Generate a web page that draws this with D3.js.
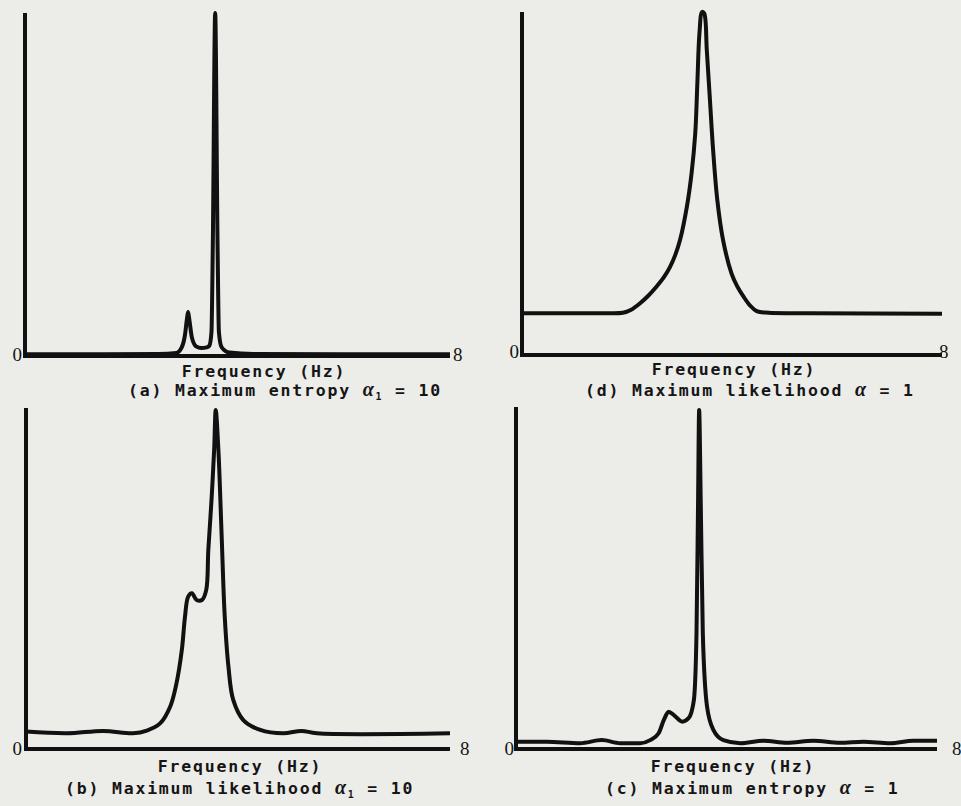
<!DOCTYPE html>
<meta charset="utf-8">
<head>
<style>
body { margin: 0; background: #ecece9; }
svg { display: block; }
.lbl { font-family: "DejaVu Sans Mono", monospace; font-weight: bold; font-size: 16.5px; letter-spacing: 1.8px; fill: #151515; }
.num { font-family: "Liberation Serif", serif; font-size: 19px; fill: #151515; }
</style>
<script src="https://cdnjs.cloudflare.com/ajax/libs/d3/7.8.5/d3.min.js"></script>
</head>
<body>
<div id="vis-container"></div>
<script>
// frequency in Hz, power in arbitrary units (axis top = 100)
var freqA = [0, 1.5, 2.5, 2.85, 2.95, 3.01, 3.05, 3.07, 3.09, 3.14, 3.22, 3.32, 3.42, 3.47, 3.51, 3.535, 3.58, 3.625, 3.65, 3.7, 3.85, 4.3, 6, 8]
var powA  = [0.5, 0.5, 0.6, 0.9, 2.5, 6, 11, 12.8, 11, 5.5, 2.8, 2.3, 2.5, 3, 7, 32, 100, 32, 7, 2.6, 1, 0.6, 0.5, 0.5]

var freqB = [0, 0.77, 1.46, 2.02, 2.28, 2.53, 2.72, 2.84, 2.94, 3.0, 3.06, 3.13, 3.22, 3.32, 3.4, 3.44, 3.5, 3.55, 3.58, 3.63, 3.69, 3.75, 3.82, 3.91, 4.1, 4.42, 4.85, 5.2, 5.49, 8]
var powB  = [5.1, 4.6, 5.3, 4.6, 5.4, 7.5, 12.4, 19.3, 29, 38.8, 44.7, 45.7, 43.7, 43.7, 46.6, 58.4, 73, 87.7, 99.4, 87.7, 63.2, 38.8, 24.1, 14.4, 8.5, 5.6, 4.6, 5.3, 4.6, 4.6]

var freqC = [0, 0.58, 1.22, 1.63, 1.98, 2.36, 2.55, 2.71, 2.81, 2.9, 3.0, 3.16, 3.28, 3.38, 3.43, 3.46, 3.48, 3.51, 3.55, 3.63, 3.75, 3.94, 4.26, 4.7, 5.15, 5.65, 6.16, 6.6, 7.11, 7.55, 8]
var powC  = [2.1, 2.1, 1.7, 2.6, 1.7, 1.7, 2.6, 4.6, 8.5, 10.9, 9.9, 8.0, 9.0, 14.3, 33.8, 72.8, 99.1, 72.8, 33.8, 12.4, 5.6, 2.6, 1.7, 2.4, 1.8, 2.4, 1.8, 2.1, 1.7, 2.4, 2.4]

var freqD = [0, 1.5, 1.92, 2.08, 2.25, 2.4, 2.56, 2.7, 2.82, 2.92, 3.01, 3.14, 3.23, 3.3, 3.34, 3.38, 3.43, 3.47, 3.52, 3.58, 3.64, 3.72, 3.83, 3.99, 4.1, 4.22, 4.34, 4.47, 4.7, 5.5, 8]
var powD  = [12.2, 12.2, 12.3, 13.2, 15.1, 17.2, 19.9, 22.6, 25.7, 29.2, 33.5, 43.2, 53, 64.6, 79.2, 93.8, 100, 99.6, 88.9, 74.3, 59.8, 45.2, 33.5, 23.8, 20, 17, 14.5, 12.8, 12.3, 12.2, 12]

var xTickLabels = ['0', '8']

var panels = [
	{freq: freqA, power: powA, left: 25, right: 450, top: 13, bottom: 356, smooth: false,
	 zero: [22, 361], eight: [453, 361], label: [264, 377], caption: [128, 396],
	 capText: '(a) Maximum entropy ', sym: 'α', sub: '1', tail: ' = 10'},
	{freq: freqD, power: powD, left: 522, right: 942, top: 12, bottom: 355, smooth: true,
	 zero: [519, 358], eight: [939, 358], label: [734, 375], caption: [585, 396],
	 capText: '(d) Maximum likelihood ', sym: 'α', sub: '', tail: ' = 1'},
	{freq: freqB, power: powB, left: 26, right: 450, top: 408, bottom: 749, smooth: true,
	 zero: [22, 755], eight: [460, 755], label: [240, 772], caption: [65, 794],
	 capText: '(b) Maximum likelihood ', sym: 'α', sub: '1', tail: ' = 10'},
	{freq: freqC, power: powC, left: 516, right: 937, top: 407, bottom: 749, smooth: false,
	 zero: [514, 755], eight: [952, 755], label: [733, 772], caption: [605, 794],
	 capText: '(c) Maximum entropy ', sym: 'α', sub: '', tail: ' = 1'}
]

var svg = d3.select('#vis-container').append('svg')
	.attr('width', 961)
	.attr('height', 806)

var drawPanel = function(p){
	var x = d3.scaleLinear().domain([0, 8]).range([p.left, p.right])
	var y = d3.scaleLinear().domain([0, 100]).range([p.bottom, p.top])
	var g = svg.append('g')

	// axes
	g.append('line')
		.attr('x1', x(0)).attr('x2', x(0))
		.attr('y1', y(0) + 2).attr('y2', y(100))
		.attr('stroke', '#111').attr('stroke-width', 4)
	g.append('line')
		.attr('x1', x(0)).attr('x2', x(8))
		.attr('y1', y(0)).attr('y2', y(0))
		.attr('stroke', '#111').attr('stroke-width', 4)

	var pts = p.freq.map(function(f, i){ return [f, p.power[i]] })
	var line = d3.line()
		.x(function(d){ return x(d[0]) })
		.y(function(d){ return y(d[1]) })
		.curve(p.smooth ? d3.curveCatmullRom.alpha(0.5) : d3.curveMonotoneX)
	g.append('path')
		.attr('d', line(pts))
		.attr('fill', 'none')
		.attr('stroke', '#111')
		.attr('stroke-width', 4)
		.attr('stroke-linejoin', 'round')

	g.append('text').attr('class', 'num')
		.attr('x', p.zero[0]).attr('y', p.zero[1])
		.attr('text-anchor', 'end')
		.text(xTickLabels[0])
	g.append('text').attr('class', 'num')
		.attr('x', p.eight[0]).attr('y', p.eight[1])
		.text(xTickLabels[1])

	g.append('text').attr('class', 'lbl')
		.attr('x', p.label[0]).attr('y', p.label[1])
		.attr('text-anchor', 'middle')
		.text('Frequency (Hz)')

	var cap = g.append('text').attr('class', 'lbl')
		.attr('x', p.caption[0]).attr('y', p.caption[1])
	cap.append('tspan').text(p.capText)
	cap.append('tspan').attr('font-style', 'italic').attr('font-family', 'Liberation Serif').attr('font-size', 20).text(p.sym)
	if (p.sub){
		cap.append('tspan').attr('font-size', 10).attr('dy', 4).text(p.sub)
		cap.append('tspan').attr('dy', -4).text(p.tail)
	} else {
		cap.append('tspan').text(p.tail)
	}
}

for (var i = 0; i < panels.length; i ++){
	drawPanel(panels[i])
}
</script>
</body>
</html>
